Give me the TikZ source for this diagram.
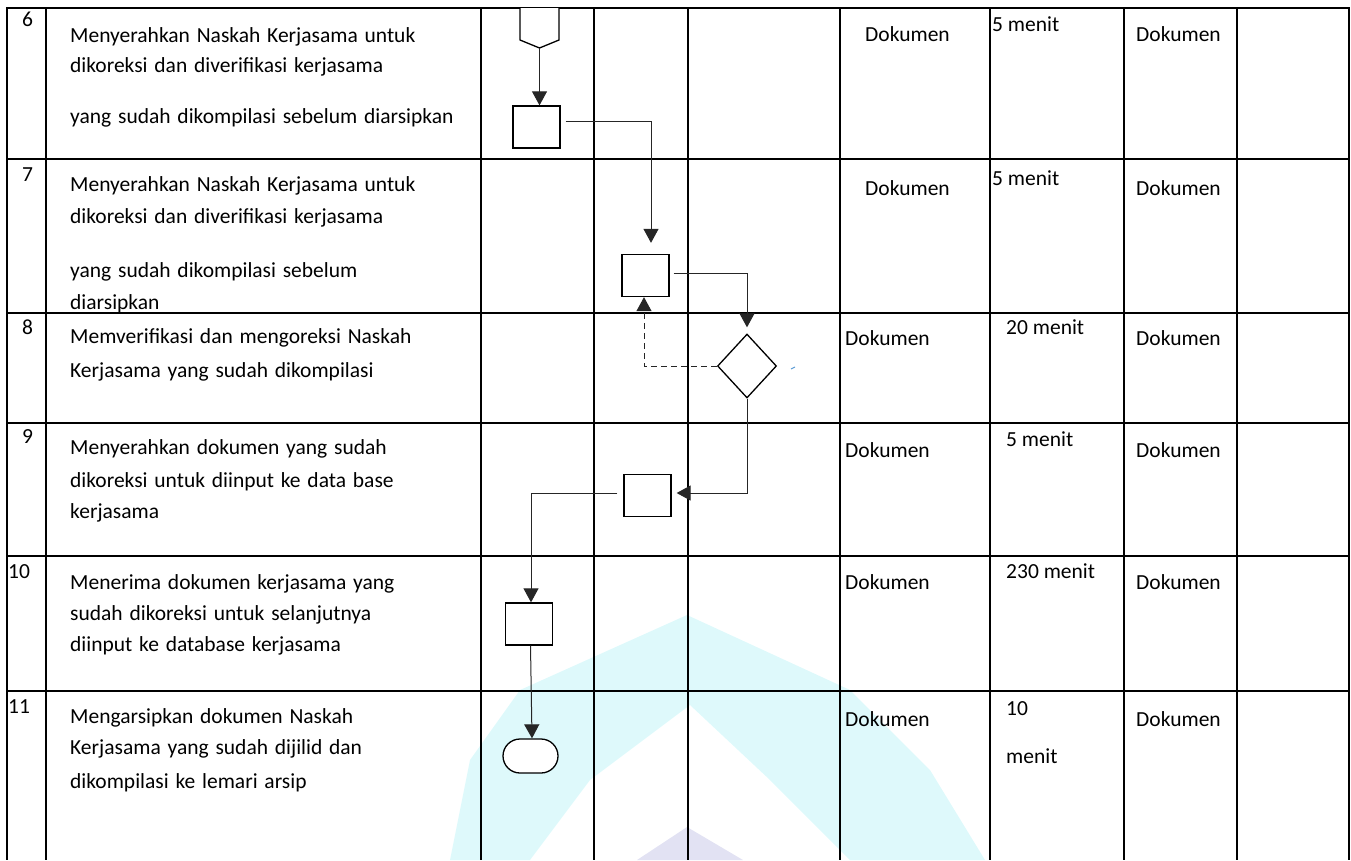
\documentclass[tikz,border=0pt]{standalone}
\usepackage{fontspec}
\setmainfont{Carlito}
\newfontfamily\descfont[WordSpace=1.4]{Carlito}
\usetikzlibrary{arrows.meta,shapes.geometric,shapes.misc}
\definecolor{wmcyan}{RGB}{222,249,251}
\definecolor{wmlav}{RGB}{226,226,243}
\definecolor{strayblue}{RGB}{91,155,213}
\begin{document}
\begin{tikzpicture}[x=1pt,y=-1pt,
  grid/.style={line width=2pt,black},
  txt/.style={anchor=base west,inner sep=0pt,font=\fontsize{21.5}{26}\selectfont},
  desc/.style={anchor=base west,inner sep=0pt,font=\descfont\fontsize{21.5}{26}\selectfont},
  box/.style={draw,line width=1.3pt,minimum width=47pt,minimum height=42pt,inner sep=0pt,fill=white},
  conn/.style={line width=1pt,black!85,-{Triangle[length=14pt,width=15pt]}},
  dsh/.style={dash pattern=on 6pt off 4pt},
]
\useasboundingbox (0,0) rectangle (1351,860);
% watermark
\fill[wmcyan] (450,860) -- (470,760) -- (520,690) -- (687,615) -- (850,690) -- (930,770) -- (985,860)
  -- (850,860) -- (770,780) -- (690,705) -- (590,780) -- (530,860) -- cycle;
\fill[wmlav] (687,827) -- (743,860) -- (637,860) -- cycle;
% grid
\foreach \y in {8,159,313,423,556,691} \draw[grid] (6,\y) -- (1350,\y);
\foreach \x in {7,46,481,594,688,840,990,1124,1237,1349} \draw[grid] (\x,7) -- (\x,860);
% numbers
\node[txt] (n6) at (22,26.5) {6};
\node[txt] (n7) at (22,181) {7};
\node[txt] (n8) at (22,334) {8};
\node[txt] (n9) at (22,443) {9};
\node[txt] (n10) at (8,578) {10};
\node[txt] (n11) at (8,713) {11};
% descriptions
\node[desc] (t6a) at (70,42) {Menyerahkan Naskah Kerjasama untuk};
\node[desc] (t6b) at (70,72) {dikoreksi dan diverifikasi kerjasama};
\node[desc] (t6c) at (70,123) {yang sudah dikompilasi sebelum diarsipkan};
\node[desc] (t7a) at (70,191) {Menyerahkan Naskah Kerjasama untuk};
\node[desc] (t7b) at (70,223) {dikoreksi dan diverifikasi kerjasama};
\node[desc] (t7c) at (70,277) {yang sudah dikompilasi sebelum};
\node[desc] (t7d) at (70,309) {diarsipkan};
\node[desc] (t8a) at (70,343) {Memverifikasi dan mengoreksi Naskah};
\node[desc] (t8b) at (70,377) {Kerjasama yang sudah dikompilasi};
\node[desc] (t9a) at (70,454) {Menyerahkan dokumen yang sudah};
\node[desc] (t9b) at (70,487) {dikoreksi untuk diinput ke data base};
\node[desc] (t9c) at (70,518) {kerjasama};
\node[desc] (t10a) at (70,589) {Menerima dokumen kerjasama yang};
\node[desc] (t10b) at (70,620) {sudah dikoreksi untuk selanjutnya};
\node[desc] (t10c) at (70,651) {diinput ke database kerjasama};
\node[desc] (t11a) at (70,723) {Mengarsipkan dokumen Naskah};
\node[desc] (t11b) at (70,754) {Kerjasama yang sudah dijilid dan};
\node[desc] (t11c) at (70,788) {dikompilasi ke lemari arsip};
% right columns
\node[txt] (d6) at (865,41) {Dokumen};
\node[txt] (m6) at (992,31) {5 menit};
\node[txt] (o6) at (1136,41) {Dokumen};
\node[txt] (d7) at (865,195) {Dokumen};
\node[txt] (m7) at (992,185) {5 menit};
\node[txt] (o7) at (1136,195) {Dokumen};
\node[txt] (d8) at (845,345) {Dokumen};
\node[txt] (m8) at (1006,334) {20 menit};
\node[txt] (o8) at (1136,345) {Dokumen};
\node[txt] (d9) at (845,457) {Dokumen};
\node[txt] (m9) at (1006,446) {5 menit};
\node[txt] (o9) at (1136,457) {Dokumen};
\node[txt] (d10) at (845,589) {Dokumen};
\node[txt] (m10) at (1006,578) {230 menit};
\node[txt] (o10) at (1136,589) {Dokumen};
\node[txt] (d11) at (845,726) {Dokumen};
\node[txt] (m11a) at (1006,715) {10};
\node[txt] (m11b) at (1006,763) {menit};
\node[txt] (o11) at (1136,726) {Dokumen};
% flowchart shapes
\draw[line width=1.3pt,fill=white] (520,8) -- (520,40) -- (539.5,48) -- (559,40) -- (559,8);
\coordinate (opc) at (539.5,48);
\node[box] (b1) at (536.5,127) {};
\node[box] (b2) at (645.5,275.5) {};
\node[draw,diamond,line width=1.3pt,minimum width=59pt,minimum height=64pt,inner sep=0pt,fill=white] (dia) at (747,366) {};
\node[box] (b3) at (647.5,495.5) {};
\node[box] (b4) at (529,624) {};
\node[draw,rounded rectangle,line width=1.3pt,minimum width=55pt,minimum height=34pt,inner sep=0pt,fill=white] (term) at (530.5,756) {};
% connectors
\draw[conn] (opc) -- (opc |- b1.north);
\draw[conn] ([xshift=5pt,yshift=6pt]b1.east) -| ([xshift=5.5pt,yshift=11pt]b2.north);
\draw[conn] ([xshift=4pt,yshift=2.5pt]b2.east) -| ([yshift=6pt]dia.north);
\draw[conn,dsh] (dia.west) -| ([xshift=-1.5pt]b2.south);
\draw[conn] (dia.south) |- ([xshift=5pt,yshift=2.5pt]b3.east);
\draw[conn] ([xshift=-6pt,yshift=2.5pt]b3.west) -| ([xshift=2pt]b4.north);
\draw[conn] ([xshift=1.5pt]b4.south) -- ([xshift=1.5pt]term.north);
\coordinate (s1) at (791,369);
\coordinate (s2) at (795,367);
\draw[strayblue,line width=1pt] (s1) -- (s2);
\end{tikzpicture}
\end{document}
